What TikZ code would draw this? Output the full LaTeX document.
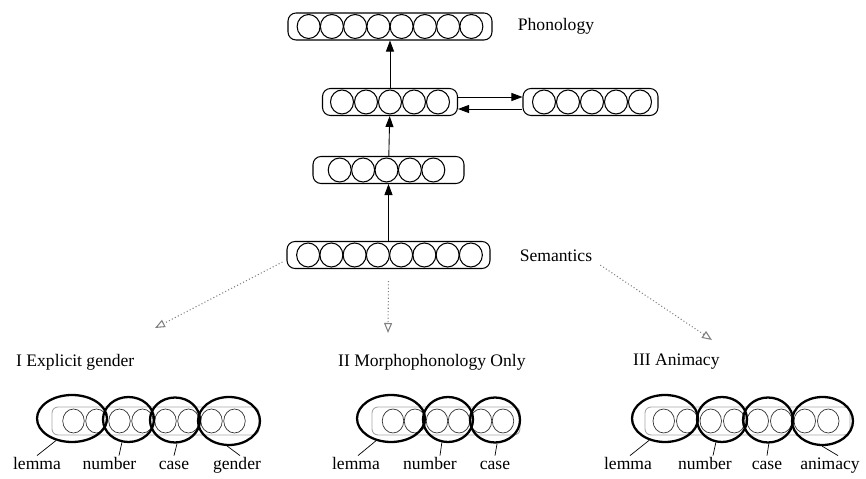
\documentclass[tikz,border=0pt]{standalone}
\usepackage{fontspec}
\setmainfont{Liberation Serif}
\usetikzlibrary{shapes.geometric,arrows.meta}

\begin{document}
\begin{tikzpicture}[x=0.02cm, y=-0.02cm, every node/.style={font=\normalsize},
    layer/.style={draw, line width=0.6pt, rounded corners=1.6mm, minimum height=5.4mm, inner sep=0pt},
    unit/.style={draw, line width=0.6pt, ellipse, minimum width=4.6mm, minimum height=4.8mm, inner sep=0pt},
    bar/.style={draw=gray!70, line width=0.5pt, rounded corners=1.2mm, minimum height=5.6mm, inner sep=0pt},
    cell/.style={draw=black!80, line width=0.4pt, ellipse, minimum width=4.3mm, minimum height=4.8mm, inner sep=0pt},
    slot/.style={draw, line width=1.3pt, ellipse, inner sep=0pt},
    lab/.style={anchor=base, inner sep=1pt, text height=7pt, text depth=2pt},
    up/.style={-{Triangle[length=2.2mm, width=1.6mm]}, line width=0.5pt},
    spread/.style={-{Triangle[open, length=2mm, width=1.6mm]}, gray, dash pattern=on 0.6pt off 1.3pt, line width=0.6pt}]
    \useasboundingbox (0,0) rectangle (866,479);

    % Network layers
    \node[layer, minimum width=40.8mm] (phon) at (390,26.5) {};
    \foreach \i in {1,...,8} \node[unit] (phon-\i) at ({390+(\i-4.5)*23.25},26.5) {};
    \node[layer, minimum width=27mm] (hidA) at (390,102) {};
    \foreach \i in {1,...,5} \node[unit] (hidA-\i) at ({390+(\i-3)*24},102) {};
    \node[layer, minimum width=27mm] (ctx) at (590.5,102) {};
    \foreach \i in {1,...,5} \node[unit] (ctx-\i) at ({592+(\i-3)*24},102) {};
    \node[layer, minimum width=30.2mm] (hidB) at (388.5,170) {};
    \foreach \i in {1,...,5} \node[unit] (hidB-\i) at ({386.5+(\i-3)*23.4},170) {};
    \node[layer, minimum width=40.6mm] (sem) at (388.5,255) {};
    \foreach \i in {1,...,8} \node[unit] (sem-\i) at ({389.5+(\i-4.5)*23.25},255) {};

    \node (phonlab) at (556,26) {Phonology};
    \node (semlab) at (556,256) {Semantics};

    \draw[up] (hidA) -- (phon);
    \draw[up] (hidB) -- (hidA);
    \draw[up] (sem) -- (hidB);
    \draw[up] ([yshift=1mm]hidA.east) -- ([yshift=1mm]ctx.west);
    \draw[up] ([yshift=-1.4mm]ctx.west) -- ([yshift=-1.4mm]hidA.east);

    % Three target codings
    \coordinate (gI) at (155,328);
    \coordinate (gII) at (388,333);
    \coordinate (gIII) at (712,340);
    \draw[spread] ([xshift=-0.8mm, yshift=-1.4mm]sem.west) -- (gI);
    \draw[spread] ([yshift=-2.4mm]sem.south) -- (gII);
    \draw[spread] ([xshift=0.4mm, yshift=0.6mm]semlab.south east) -- (gIII);

    \node[anchor=west] (titleI) at (10,362) {I Explicit gender};
    \node[anchor=west] (titleII) at (332,362) {II Morphophonology Only};
    \node[anchor=west] (titleIII) at (627,362) {III Animacy};

    % I Explicit gender
    \node[bar, minimum width=41.4mm] (barI) at (155.5,421) {};
    \foreach \i in {1,...,8} \node[cell] (barI-\i) at ({154+(\i-4.5)*23},421) {};
    \node[slot, minimum width=14mm, minimum height=9.4mm] (lemmaI) at (72,418.5) {};
    \node[slot, minimum width=10.2mm, minimum height=9mm] (numI) at (128.5,419.5) {};
    \node[slot, minimum width=10mm, minimum height=9mm] (caseI) at (175,420) {};
    \node[slot, minimum width=12.4mm, minimum height=9.6mm] (genI) at (229,421) {};
    \node[lab] (lemmaIlab) at (37,470) {lemma};
    \node[lab] (numIlab) at (109.5,470) {number};
    \node[lab] (caseIlab) at (174,470) {case};
    \node[lab] (genIlab) at (237,470) {gender};
    \draw (lemmaI.234) -- (lemmaIlab.north);
    \draw (numI.254) -- ([xshift=1.9mm]numIlab.north);
    \draw (caseI.275) -- (caseIlab.north);
    \draw (genI.266) -- ([xshift=0.6mm]genIlab.north);

    % II Morphophonology only
    \node[bar, minimum width=29.6mm] (barII) at (446,421) {};
    \foreach \i in {1,...,6} \node[cell] (barII-\i) at ({448+(\i-3.5)*22},421) {};
    \node[slot, minimum width=13.6mm, minimum height=9.4mm] (lemmaII) at (391,418.5) {};
    \node[slot, minimum width=10mm, minimum height=9mm] (numII) at (448,419.5) {};
    \node[slot, minimum width=10mm, minimum height=9mm] (caseII) at (495,420) {};
    \node[lab] (lemmaIIlab) at (356,470) {lemma};
    \node[lab] (numIIlab) at (430,470) {number};
    \node[lab] (caseIIlab) at (495,470) {case};
    \draw (lemmaII.236) -- ([xshift=0.4mm]lemmaIIlab.north);
    \draw (numII.255) -- ([xshift=2mm]numIIlab.north);
    \draw (caseII.275) -- (caseIIlab.north);

    % III Animacy
    \node[bar, minimum width=41mm] (barIII) at (747.5,421) {};
    \foreach \i in {1,...,8} \node[cell] (barIII-\i) at ({746+(\i-4.5)*23.5},421) {};
    \node[slot, minimum width=13.2mm, minimum height=9.4mm] (lemmaIII) at (665,418.5) {};
    \node[slot, minimum width=10mm, minimum height=9mm] (numIII) at (722,419.5) {};
    \node[slot, minimum width=10mm, minimum height=9mm] (caseIII) at (768,420) {};
    \node[slot, minimum width=12.2mm, minimum height=9.6mm] (aniIII) at (822.5,421) {};
    \node[lab] (lemmaIIIlab) at (628,470) {lemma};
    \node[lab] (numIIIlab) at (705,470) {number};
    \node[lab] (caseIIIlab) at (767,470) {case};
    \node[lab] (aniIIIlab) at (830,470) {animacy};
    \draw (lemmaIII.234) -- ([xshift=0.4mm]lemmaIIIlab.north);
    \draw (numIII.255) -- ([xshift=1.6mm]numIIIlab.north);
    \draw (caseIII.272) -- (caseIIIlab.north);
    \draw (aniIII.269) -- ([xshift=1.6mm]aniIIIlab.north);
\end{tikzpicture}
\end{document}
